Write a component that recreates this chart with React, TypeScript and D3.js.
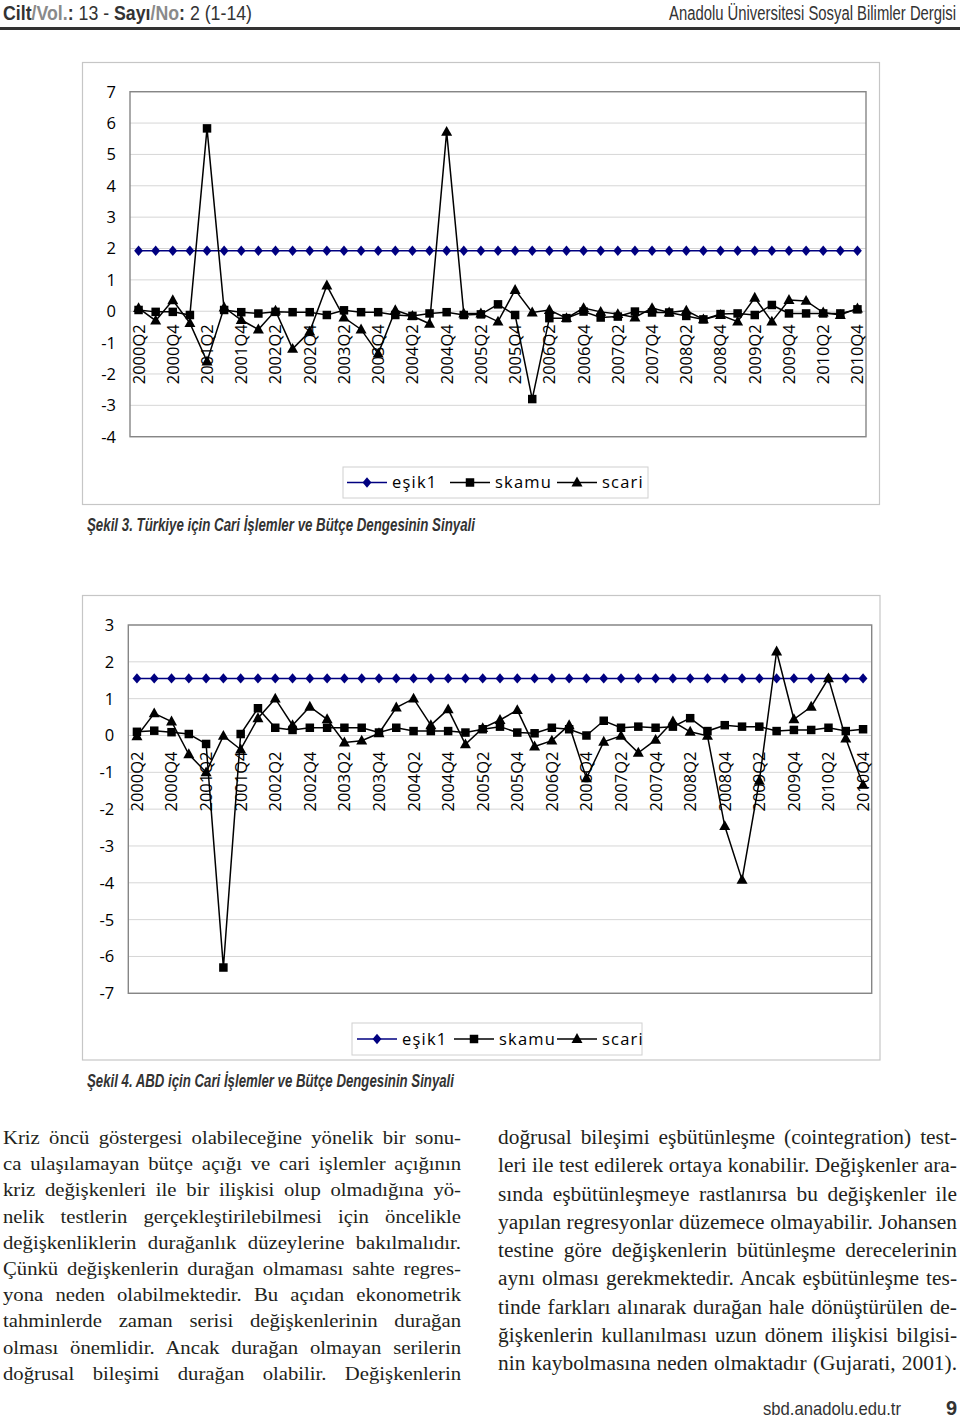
import React, { useEffect, useRef } from 'react';
import * as d3 from 'd3';

const quarters = [
  '2000Q2','2000Q3','2000Q4',
  '2001Q1','2001Q2','2001Q3','2001Q4',
  '2002Q1','2002Q2','2002Q3','2002Q4',
  '2003Q1','2003Q2','2003Q3','2003Q4',
  '2004Q1','2004Q2','2004Q3','2004Q4',
  '2005Q1','2005Q2','2005Q3','2005Q4',
  '2006Q1','2006Q2','2006Q3','2006Q4',
  '2007Q1','2007Q2','2007Q3','2007Q4',
  '2008Q1','2008Q2','2008Q3','2008Q4',
  '2009Q1','2009Q2','2009Q3','2009Q4',
  '2010Q1','2010Q2','2010Q3','2010Q4',
];

const xTickLabels = [
  '2000Q2','2000Q4','2001Q2','2001Q4','2002Q2','2002Q4','2003Q2','2003Q4',
  '2004Q2','2004Q4','2005Q2','2005Q4','2006Q2','2006Q4','2007Q2','2007Q4',
  '2008Q2','2008Q4','2009Q2','2009Q4','2010Q2','2010Q4',
];

// Şekil 3 – Türkiye
const trTicks = [7, 6, 5, 4, 3, 2, 1, 0, -1, -2, -3, -4];
const trEsik1 = [
  1.93,1.93,1.93,1.93,1.93,1.93,1.93,1.93,1.93,1.93,1.93,1.93,1.93,1.93,1.93,
  1.93,1.93,1.93,1.93,1.93,1.93,1.93,1.93,1.93,1.93,1.93,1.93,1.93,1.93,1.93,
  1.93,1.93,1.93,1.93,1.93,1.93,1.93,1.93,1.93,1.93,1.93,1.93,1.93,
];
const trSkamu = [
  0.04,-0.02,-0.02,-0.12,5.83,0.04,-0.03,-0.07,-0.02,-0.03,-0.03,-0.12,0.03,-0.03,-0.03,
  -0.12,-0.15,-0.07,-0.03,-0.12,-0.1,0.22,-0.12,-2.8,-0.22,-0.22,-0.01,-0.2,-0.17,-0.01,
  -0.04,-0.04,-0.15,-0.26,-0.09,-0.07,-0.12,0.2,-0.07,-0.07,-0.07,-0.07,0.06,
];
const trScari = [
  0.1,-0.3,0.35,-0.38,-1.6,0.12,-0.28,-0.58,0.02,-1.2,-0.65,0.82,-0.2,-0.58,-1.35,
  0.03,-0.15,-0.4,5.72,-0.07,-0.07,-0.33,0.68,-0.04,0.04,-0.22,0.1,-0.02,-0.09,-0.2,
  0.1,-0.04,0.02,-0.26,-0.12,-0.33,0.43,-0.33,0.36,0.33,-0.04,-0.12,0.09,
];

// Şekil 4 – ABD
const usTicks = [3, 2, 1, 0, -1, -2, -3, -4, -5, -6, -7];
const usEsik1 = [
  1.55,1.55,1.55,1.55,1.55,1.55,1.55,1.55,1.55,1.55,1.55,1.55,1.55,1.55,1.55,
  1.55,1.55,1.55,1.55,1.55,1.55,1.55,1.55,1.55,1.55,1.55,1.55,1.55,1.55,1.55,
  1.55,1.55,1.55,1.55,1.55,1.55,1.55,1.55,1.55,1.55,1.55,1.55,1.55,
];
const usSkamu = [
  0.1,0.13,0.09,0.04,-0.23,-6.3,0.04,0.74,0.21,0.15,0.21,0.21,0.21,0.21,0.08,
  0.21,0.12,0.12,0.12,0.08,0.17,0.24,0.08,0.06,0.21,0.17,0,0.4,0.21,0.24,
  0.21,0.24,0.47,0.12,0.28,0.24,0.24,0.12,0.15,0.15,0.21,0.12,0.17,
];
const usScari = [
  -0.02,0.6,0.38,-0.51,-1.0,-0.01,-0.38,0.47,1.0,0.28,0.78,0.44,-0.19,-0.14,0.06,
  0.76,1.0,0.28,0.71,-0.24,0.2,0.42,0.69,-0.3,-0.14,0.28,-1.16,-0.17,-0.01,-0.47,
  -0.12,0.38,0.1,-0.01,-2.46,-3.92,-1.23,2.28,0.44,0.78,1.55,-0.08,-1.34,
];

const legendNames = ['eşik1', 'skamu', 'scari'];

const leftLines = [
  'Kriz öncü göstergesi olabileceğine yönelik bir sonu-',
  'ca ulaşılamayan bütçe açığı ve cari işlemler açığının',
  'kriz değişkenleri ile bir ilişkisi olup olmadığına yö-',
  'nelik testlerin gerçekleştirilebilmesi için öncelikle',
  'değişkenliklerin durağanlık düzeylerine bakılmalıdır.',
  'Çünkü değişkenlerin durağan olmaması sahte regres-',
  'yona neden olabilmektedir. Bu açıdan ekonometrik',
  'tahminlerde zaman serisi değişkenlerinin durağan',
  'olması önemlidir. Ancak durağan olmayan serilerin',
  'doğrusal bileşimi durağan olabilir. Değişkenlerin',
];
const rightLines = [
  'doğrusal bileşimi eşbütünleşme (cointegration) test-',
  'leri ile test edilerek ortaya konabilir. Değişkenler ara-',
  'sında eşbütünleşmeye rastlanırsa bu değişkenler ile',
  'yapılan regresyonlar düzemece olmayabilir. Johansen',
  'testine göre değişkenlerin bütünleşme derecelerinin',
  'aynı olması gerekmektedir. Ancak eşbütünleşme tes-',
  'tinde farkları alınarak durağan hale dönüştürülen de-',
  'ğişkenlerin kullanılması uzun dönem ilişkisi bilgisi-',
  'nin kaybolmasına neden olmaktadır (Gujarati, 2001).',
];

const NAVY = '#000080';
const CHART_FONT = '"Open Sans", "Liberation Sans", Arial, sans-serif';
const NARROW = '"Liberation Sans Narrow", "Liberation Sans", Arial, sans-serif';
const SERIF = '"Liberation Serif", "DejaVu Serif", serif';

function diamondPath(cx: number, cy: number, r: number) {
  return `M${cx},${cy - r}L${cx + r * 0.85},${cy}L${cx},${cy + r}L${cx - r * 0.85},${cy}Z`;
}
function squarePath(cx: number, cy: number, s: number) {
  return `M${cx - s / 2},${cy - s / 2}h${s}v${s}h${-s}Z`;
}
function trianglePath(cx: number, cy: number, w: number) {
  const h = w * 0.9;
  return `M${cx},${cy - h * 0.6}L${cx + w / 2},${cy + h * 0.4}L${cx - w / 2},${cy + h * 0.4}Z`;
}

type ChartProps = {
  box: [number, number, number, number];
  plot: [number, number, number, number];
  ticks: number[];
  esik: number[];
  skamu: number[];
  scari: number[];
  legendBox: [number, number, number, number];
  legendX: number[];
  labelOffset: number;
};

function Chart(p: ChartProps) {
  const [px0, py0, px1, py1] = p.plot;
  const x = d3.scaleBand<string>().domain(quarters).range([px0, px1]).padding(0);
  const cx = (q: string) => (x(q) as number) + x.bandwidth() / 2;
  const yMax = d3.max(p.ticks) as number;
  const yMin = d3.min(p.ticks) as number;
  const y = d3.scaleLinear().domain([yMin, yMax]).range([py1, py0]);
  const line = d3
    .line<number>()
    .x((_, i) => cx(quarters[i]))
    .y((d) => y(d));
  const [bx0, by0, bx1, by1] = p.box;
  const [lx0, ly0, lx1, ly1] = p.legendBox;
  const ly = (ly0 + ly1) / 2;
  const symbolFns = [
    (a: number, b: number) => diamondPath(a, b, 5.2),
    (a: number, b: number) => squarePath(a, b, 8.5),
    (a: number, b: number) => trianglePath(a, b, 11),
  ];
  const series = [p.esik, p.skamu, p.scari];
  const colors = [NAVY, '#000', '#000'];
  return (
    <g>
      <rect x={bx0} y={by0} width={bx1 - bx0} height={by1 - by0} fill="#fff" stroke="#c6c6c6" strokeWidth={1.2} />
      {p.ticks.map((t) => (
        <line key={'g' + t} x1={px0} x2={px1} y1={y(t)} y2={y(t)} stroke="#d6d6d6" strokeWidth={1} />
      ))}
      <rect x={px0} y={py0} width={px1 - px0} height={py1 - py0} fill="none" stroke="#868686" strokeWidth={1.4} />
      {p.ticks.map((t) => (
        <text key={'t' + t} x={px0 - 14} y={y(t)} dy="0.36em" textAnchor="end" fontFamily={CHART_FONT} fontSize={16.5} fill="#000">
          {t}
        </text>
      ))}
      {xTickLabels.map((q) => (
        <text
          key={'x' + q}
          transform={`translate(${cx(q)},${y(0) + p.labelOffset}) rotate(-90)`}
          textAnchor="end"
          dy="0.36em"
          fontFamily={CHART_FONT}
          fontSize={16.5}
          fill="#000"
        >
          {q}
        </text>
      ))}
      {series.map((s, k) => (
        <g key={'s' + k}>
          <path d={line(s) as string} fill="none" stroke={colors[k]} strokeWidth={1.5} />
          {s.map((v, i) => (
            <path key={i} d={symbolFns[k](cx(quarters[i]), y(v))} fill={colors[k]} />
          ))}
        </g>
      ))}
      <rect x={lx0} y={ly0} width={lx1 - lx0} height={ly1 - ly0} fill="#fff" stroke="#d0d0d0" strokeWidth={1} />
      {legendNames.map((n, k) => (
        <g key={'l' + n}>
          <line x1={p.legendX[k]} x2={p.legendX[k] + 40} y1={ly} y2={ly} stroke={colors[k]} strokeWidth={1.5} />
          <path d={symbolFns[k](p.legendX[k] + 20, ly)} fill={colors[k]} />
          <text x={p.legendX[k] + 45} y={ly} dy="0.36em" fontFamily={CHART_FONT} fontSize={16.5} letterSpacing={1.2} fill="#000">
            {n}
          </text>
        </g>
      ))}
    </g>
  );
}

export default function App() {
  const ref = useRef<SVGSVGElement>(null);
  useEffect(() => {
    const run = () => {
      if (!ref.current) return;
      const root = d3.select(ref.current);
      root.selectAll<SVGTextElement, unknown>('text.just').each(function () {
        const el = this;
        el.removeAttribute('word-spacing');
        el.removeAttribute('textLength');
        const target = +(el.getAttribute('data-w') || 0);
        const w = el.getComputedTextLength();
        const spaces = ((el.textContent || '').match(/ /g) || []).length;
        if (w < target && spaces > 0) {
          el.setAttribute('word-spacing', String((target - w) / spaces));
        } else if (w > target) {
          el.setAttribute('textLength', String(target));
          el.setAttribute('lengthAdjust', 'spacingAndGlyphs');
        }
      });
      root.selectAll<SVGTextElement, unknown>('text.fit').each(function () {
        const el = this;
        const target = +(el.getAttribute('data-w') || 0);
        const tx = +(el.getAttribute('data-x') || 0);
        const ty = +(el.getAttribute('data-y') || 0);
        const w = el.getComputedTextLength();
        const s = w > 0 ? target / w : 1;
        el.setAttribute('transform', `translate(${tx},${ty}) scale(${s},1)`);
      });
    };
    run();
    if ((document as any).fonts && (document as any).fonts.ready) {
      (document as any).fonts.ready.then(run);
    }
  }, []);

  const leftSx = 1.12;
  const rightSx = 1.07;

  return (
    <svg
      ref={ref}
      width={960}
      height={1419}
      viewBox="0 0 960 1419"
      style={{ position: 'absolute', left: 0, top: 0, background: '#fff' }}
    >
      <rect x={0} y={0} width={960} height={1419} fill="#fff" />
      {/* Header */}
      <text className="fit" data-w={249} data-x={3} data-y={19.5} transform="translate(3,19.5) scale(0.83,1)" fontFamily={NARROW} fontSize={20} fill="#333">
        <tspan fontWeight="bold">Cilt</tspan>
        <tspan fill="#8a8a8a" fontWeight="bold">/Vol.</tspan>
        <tspan fontWeight="bold">:</tspan>
        <tspan> 13 - </tspan>
        <tspan fontWeight="bold">Sayı</tspan>
        <tspan fill="#8a8a8a" fontWeight="bold">/No</tspan>
        <tspan fontWeight="bold">:</tspan>
        <tspan> 2 (1-14)</tspan>
      </text>
      <text className="fit" data-w={287} data-x={669} data-y={19.5} transform="translate(669,19.5) scale(0.72,1)" fontFamily={NARROW} fontSize={20} fill="#333">
        Anadolu Üniversitesi Sosyal Bilimler Dergisi
      </text>
      <line x1={0} x2={960} y1={28.5} y2={28.5} stroke="#333" strokeWidth={3} />

      <Chart
        box={[82.5, 62.5, 879.5, 504.5]}
        plot={[130, 91.7, 866, 436.7]}
        ticks={trTicks}
        esik={trEsik1}
        skamu={trSkamu}
        scari={trScari}
        legendBox={[343, 467, 648, 498]}
        legendX={[347, 450, 557]}
        labelOffset={13}
      />
      <text className="fit" data-w={388} data-x={87} data-y={531} transform="translate(87,531) scale(0.72,1)" fontFamily={NARROW} fontWeight="bold" fontStyle="italic" fontSize={19} fill="#333">
        Şekil 3. Türkiye için Cari İşlemler ve Bütçe Dengesinin Sinyali
      </text>

      <Chart
        box={[82.5, 595.5, 880, 1060]}
        plot={[128.3, 625, 871.7, 993.3]}
        ticks={usTicks}
        esik={usEsik1}
        skamu={usSkamu}
        scari={usScari}
        legendBox={[352, 1023, 642, 1055]}
        legendX={[357, 454, 557]}
        labelOffset={16}
      />
      <text className="fit" data-w={367} data-x={87} data-y={1087} transform="translate(87,1087) scale(0.72,1)" fontFamily={NARROW} fontWeight="bold" fontStyle="italic" fontSize={19} fill="#333">
        Şekil 4. ABD için Cari İşlemler ve Bütçe Dengesinin Sinyali
      </text>

      {/* Body text */}
      {leftLines.map((l, i) => (
        <text
          key={'L' + i}
          className="just"
          data-w={458 / leftSx}
          transform={`translate(3,${1144 + i * 26.2}) scale(${leftSx},1)`}
          fontFamily={SERIF}
          fontSize={18.5}
          fill="#231f20"
        >
          {l}
        </text>
      ))}
      {rightLines.map((l, i) => (
        <text
          key={'R' + i}
          className="just"
          data-w={459 / rightSx}
          transform={`translate(498,${1144 + i * 28.25}) scale(${rightSx},1)`}
          fontFamily={SERIF}
          fontSize={20}
          fill="#231f20"
        >
          {l}
        </text>
      ))}

      {/* Footer */}
      <text className="fit" data-w={138} data-x={763} data-y={1415} transform="translate(763,1415) scale(0.85,1)" fontFamily={NARROW} fontSize={19} fill="#333">
        sbd.anadolu.edu.tr
      </text>
      <text x={957} y={1415} textAnchor="end" fontFamily={NARROW} fontWeight="bold" fontSize={20} fill="#333">
        9
      </text>
    </svg>
  );
}
